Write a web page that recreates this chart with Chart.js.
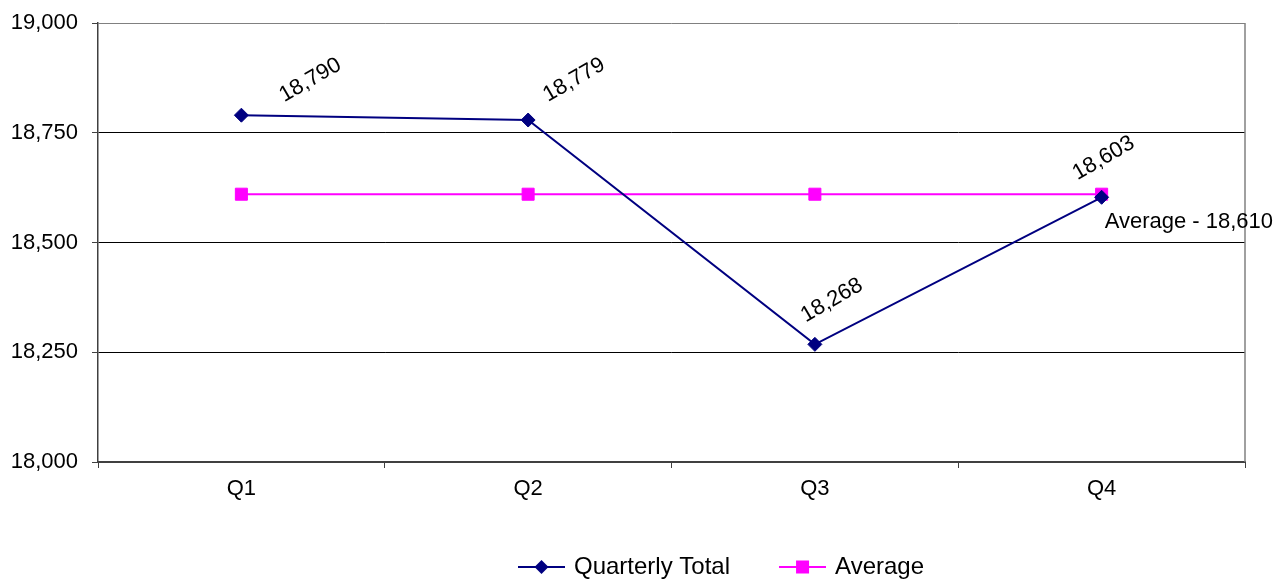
<!DOCTYPE html>
<html>
<head>
<meta charset="utf-8">
<script src="https://cdn.jsdelivr.net/npm/chart.js@4/dist/chart.umd.min.js"></script>
<style>
  body { margin: 0; background: #fff; }
</style>
</head>
<body>
<canvas id="quarterChart" width="1278" height="579"></canvas>
<script>
// Values
const quarters = ['Q1', 'Q2', 'Q3', 'Q4'];
const quarterlyTotal = [18790, 18779, 18268, 18603];
const averageValue = [18610, 18610, 18610, 18610];
const seriesNames = ['Quarterly Total', 'Average'];
const yTicks = [18000, 18250, 18500, 18750, 19000];

const navy = '#000080';
const magenta = '#FF00FF';
const fontFamily = '"Liberation Sans", Arial, sans-serif';

const fmt = v => Number(v).toLocaleString('en-US');

// Little line+marker pictures for the legend
function legendIcon(color, shape) {
    const c = document.createElement('canvas');
    c.width = 47;
    c.height = 20;
    const g = c.getContext('2d');
    g.strokeStyle = color;
    g.lineWidth = 2;
    g.beginPath();
    g.moveTo(0, 10);
    g.lineTo(47, 10);
    g.stroke();
    g.fillStyle = color;
    g.beginPath();
    if (shape === 'diamond') {
        g.moveTo(23.5, 3);
        g.lineTo(30.5, 10);
        g.lineTo(23.5, 17);
        g.lineTo(16.5, 10);
        g.closePath();
    } else {
        g.rect(17, 3.5, 13, 13);
    }
    g.fill();
    return c;
}
const legendIcons = [legendIcon(navy, 'diamond'), legendIcon(magenta, 'square')];

// Rotated value labels, the average note, and the right border of the plot
const labelPlugin = {
    id: 'valueLabels',
    afterInit(chart) {
        const legend = chart.legend;
        const origFit = legend.fit;
        legend.fit = function() {
            origFit.call(this);
            this.height = chart.options.plugins.valueLabels.legendHeight;
        };
    },
    afterLayout(chart, args, opts) {
        chart.legend.left += opts.legendShift;
        chart.legend.right += opts.legendShift;
    },
    afterDatasetsDraw(chart, args, opts) {
        const ctx = chart.ctx;
        const area = chart.chartArea;
        ctx.save();
        ctx.strokeStyle = '#808080';
        ctx.lineWidth = 1.5;
        ctx.beginPath();
        ctx.moveTo(area.right, area.top);
        ctx.lineTo(area.right, area.bottom);
        ctx.stroke();

        ctx.fillStyle = '#000';
        ctx.font = '22px ' + fontFamily;
        ctx.textAlign = 'center';
        ctx.textBaseline = 'middle';
        const totals = chart.getDatasetMeta(0).data;
        totals.forEach((pt, i) => {
            const off = opts.labelOffsets[i];
            ctx.save();
            ctx.translate(pt.x + off[0], pt.y + off[1]);
            ctx.rotate(-30 * Math.PI / 180);
            ctx.fillText(fmt(chart.data.datasets[0].data[i]), 0, 0);
            ctx.restore();
        });

        const avgPts = chart.getDatasetMeta(1).data;
        const last = avgPts.length - 1;
        ctx.textAlign = 'left';
        ctx.fillText('Average - ' + fmt(chart.data.datasets[1].data[last]),
            avgPts[last].x + 3, avgPts[last].y + 28);
        ctx.restore();
    }
};

const ctx = document.getElementById('quarterChart').getContext('2d');

const config = {
    type: 'line',
    data: {
        labels: quarters,
        datasets: [{
            label: seriesNames[0],
            data: quarterlyTotal,
            borderColor: navy,
            backgroundColor: navy,
            borderWidth: 2,
            pointStyle: 'rectRot',
            pointRadius: 7,
            pointBorderWidth: 1,
            tension: 0,
            fill: false
        }, {
            label: seriesNames[1],
            data: averageValue,
            borderColor: magenta,
            backgroundColor: magenta,
            borderWidth: 2,
            pointStyle: 'rect',
            pointRadius: 8.5,
            pointBorderWidth: 1,
            tension: 0,
            fill: false
        }]
    },
    options: {
        responsive: false,
        animation: false,
        layout: {
            padding: { top: 23, right: 33, left: 0, bottom: 0 }
        },
        plugins: {
            tooltip: { enabled: false },
            legend: {
                position: 'bottom',
                align: 'center',
                labels: {
                    color: '#000',
                    font: { family: fontFamily, size: 24 },
                    usePointStyle: true,
                    pointStyleWidth: 41,
                    padding: 52,
                    generateLabels(chart) {
                        return Chart.defaults.plugins.legend.labels.generateLabels(chart).map((item, i) => {
                            item.pointStyle = legendIcons[i];
                            return item;
                        });
                    }
                }
            },
            valueLabels: {
                labelOffsets: [[69, -35], [46, -40], [17, -44], [2, -39]],
                legendHeight: 76,
                legendShift: 100
            }
        },
        scales: {
            x: {
                offset: true,
                afterFit(scale) {
                    scale.height = 41;
                    scale.paddingLeft = 0;
                    scale.paddingRight = 0;
                },
                grid: {
                    offset: true,
                    drawOnChartArea: false,
                    tickLength: 6,
                    tickColor: '#404040'
                },
                border: { color: '#404040', width: 2 },
                ticks: {
                    color: '#000',
                    padding: 8,
                    font: { family: fontFamily, size: 22 }
                }
            },
            y: {
                min: yTicks[0],
                max: yTicks[yTicks.length - 1],
                afterFit(scale) {
                    scale.width = 98;
                    scale.paddingTop = 0;
                    scale.paddingBottom = 0;
                },
                afterBuildTicks(scale) {
                    scale.ticks = yTicks.map(v => ({ value: v }));
                },
                grid: {
                    color: c => (c.tick && c.tick.value === yTicks[yTicks.length - 1]) ? '#808080' : '#000',
                    lineWidth: 1,
                    tickLength: 6,
                    tickColor: '#404040'
                },
                border: { color: '#404040', width: 1.5 },
                ticks: {
                    color: '#000',
                    padding: 14,
                    font: { family: fontFamily, size: 22 },
                    callback: v => fmt(v)
                }
            }
        }
    },
    plugins: [labelPlugin]
};

const quarterChart = new Chart(ctx, config);
</script>
</body>
</html>
